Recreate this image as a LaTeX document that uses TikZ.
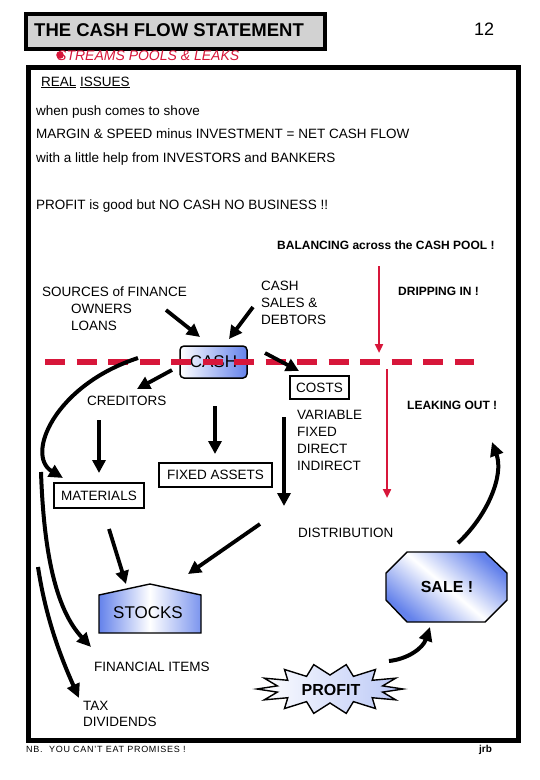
\documentclass[tikz,border=0pt]{standalone}
\usepackage{fontspec}
\setmainfont{Liberation Sans}
\usetikzlibrary{arrows.meta}
\definecolor{crim}{RGB}{215,22,58}
\definecolor{blueS}{RGB}{100,130,235}
\definecolor{marble}{RGB}{210,210,210}
\tikzset{
  lbl/.style={anchor=base west, inner sep=0, font=\fontsize{13.5}{16}\selectfont},
  blbl/.style={anchor=base west, inner sep=0, font=\bfseries\fontsize{12}{14}\selectfont},
  boxnode/.style={draw, line width=1.6pt, inner sep=0, font=\fontsize{13.5}{16}\selectfont},
  bigarrow/.style={line width=3.8pt, -{Triangle[length=13pt,width=13pt]}},
  curvearrow/.style={line width=4pt, -{Triangle[length=14pt,width=13pt]}},
  redarrow/.style={crim, line width=2.4pt, -{Triangle[length=9pt,width=8pt]}},
}
\begin{document}
\begin{tikzpicture}[x=1pt,y=-1pt]
\useasboundingbox (0,0) rectangle (540,780);
% title
\node[draw, line width=3.5pt, fill=marble, minimum width=299pt, minimum height=35pt, inner sep=0, anchor=north west] (titlebox) at (24,12) {};
\node[anchor=base west, inner sep=0, font=\bfseries\fontsize{18.5}{20}\selectfont] (title) at (34,36) {THE CASH FLOW STATEMENT};
\node[anchor=base west, inner sep=0, font=\fontsize{18}{20}\selectfont] (pagenum) at (474,35) {12};
\fill[crim] (60,55) circle (3.8pt);
\node[anchor=base west, inner sep=0, text=crim, font=\itshape\fontsize{14}{16}\selectfont] (streams) at (57,60) {STREAMS POOLS \& LEAKS};
% frame
\node[draw, line width=5pt, minimum width=490pt, minimum height=673pt, inner sep=0, anchor=north west] (frame) at (26,65) {};
% top text
\node[lbl] (real) at (41,86) {\underline{REAL} \underline{ISSUES}};
\node[lbl] (push) at (36,115) {when push comes to shove};
\node[lbl] (margin) at (36,138) {MARGIN \& SPEED minus INVESTMENT = NET CASH FLOW};
\node[lbl] (help) at (36,162) {with a little help from INVESTORS and BANKERS};
\node[lbl] (profitgood) at (36,209) {PROFIT is good but NO CASH NO BUSINESS !!};
\node[blbl] (balancing) at (277,249) {BALANCING across the CASH POOL !};
\node[blbl] (dripping) at (398,295) {DRIPPING IN !};
\node[blbl] (leaking) at (407,409) {LEAKING OUT !};
% sources
\node[lbl] (sources) at (42,296) {SOURCES of FINANCE};
\node[lbl] (owners) at (71,313) {OWNERS};
\node[lbl] (loans) at (71,330) {LOANS};
\node[lbl] (cashsales1) at (261,290) {CASH};
\node[lbl] (cashsales2) at (261,307) {SALES \&};
\node[lbl] (cashsales3) at (261,324) {DEBTORS};
% cash box
\node[draw, line width=1.5pt, rounded corners=4pt, left color=white, right color=blueS, minimum width=67pt, minimum height=32pt, inner sep=0, font=\fontsize{17}{18}\selectfont] (cash) at (213.5,362) {CASH};
% dashed line
\coordinate (dashL) at (45,362);
\coordinate (dashR) at (474,362);
\draw[crim, line width=5.5pt, dash pattern=on 20pt off 11.5pt] (dashL) -- (dashR);
% costs
\node[boxnode, minimum width=59pt, minimum height=23pt] (costs) at (319.5,387.5) {COSTS};
\node[lbl] (creditors) at (87,405) {CREDITORS};
\node[lbl] (variable) at (297,419) {VARIABLE};
\node[lbl] (fixed) at (297,436) {FIXED};
\node[lbl] (direct) at (297,453) {DIRECT};
\node[lbl] (indirect) at (297,470) {INDIRECT};
\node[boxnode, minimum width=113pt, minimum height=24pt] (fixedassets) at (215.5,475) {FIXED ASSETS};
\node[boxnode, minimum width=90pt, minimum height=25pt] (materials) at (99,495.5) {MATERIALS};
\node[lbl] (distribution) at (298,537) {DISTRIBUTION};
% stocks
\shade[left color=blueS, right color=blueS!85, middle color=white, draw, line width=1.4pt]
  (99,595) -- (150,584) -- (201,595) -- (201,633) -- (99,633) -- cycle;
\node[inner sep=0, font=\fontsize{17}{18}\selectfont] (stocks) at (148,613) {STOCKS};
% sale
\shade[top color=blueS, bottom color=blueS, middle color=white, shading angle=-40, draw, line width=1.4pt]
  (407,552) -- (485,552) -- (507,573) -- (507,600) -- (485,622) -- (407,622) -- (386,600) -- (386,573) -- cycle;
\node[inner sep=0, font=\bfseries\fontsize{16}{18}\selectfont] (sale) at (447,587) {SALE !};
% profit
\shade[left color=white, right color=blueS!45, draw, line width=1.4pt]
  (403,689) \foreach \i in {1,...,27}{ -- ({330+ifthenelse(isodd(\i),54,73)*cos(\i*360/28)},{689+ifthenelse(isodd(\i),14,25)*sin(\i*360/28)}) } -- cycle;
\node[inner sep=0, font=\bfseries\fontsize{16}{18}\selectfont] (profit) at (331,690) {PROFIT};
\node[lbl] (financial) at (94,671) {FINANCIAL ITEMS};
\node[lbl] (tax) at (83,710) {TAX};
\node[lbl] (dividends) at (83,726) {DIVIDENDS};
\node[anchor=base west, inner sep=0, font=\addfontfeature{LetterSpace=8}\fontsize{9}{10}\selectfont] (nb) at (26,752) {NB.\ \ YOU CAN'T EAT PROMISES !};
\node[anchor=base west, inner sep=0, font=\bfseries\fontsize{10}{10}\selectfont] (jrb) at (479,752) {jrb};
% arrow coordinates
\coordinate (a1s) at (166,310); \coordinate (a1e) at (200,337);
\coordinate (a2s) at (253,307); \coordinate (a2e) at (229,339);
\coordinate (a3s) at (265,353); \coordinate (a3e) at (299,371);
\coordinate (a4s) at (172,370); \coordinate (a4e) at (137,389);
\coordinate (a5s) at (99,420); \coordinate (a5e) at (99,473);
\coordinate (a6s) at (215,406); \coordinate (a6e) at (215,454);
\coordinate (a7s) at (284,417); \coordinate (a7e) at (284,506);
\coordinate (a8s) at (260,524); \coordinate (a8e) at (188,574);
\coordinate (a9s) at (109,529); \coordinate (a9e) at (126,584);
\coordinate (rd1s) at (379,266); \coordinate (rd1e) at (379,353);
\coordinate (rd2s) at (387,369); \coordinate (rd2e) at (387,498);
\coordinate (c1s) at (138,358); \coordinate (c1e) at (63,478);
\coordinate (c2s) at (41,472); \coordinate (c2e) at (91,647);
\coordinate (c3s) at (38,567); \coordinate (c3e) at (79,698);
\coordinate (c4s) at (458,543); \coordinate (c4e) at (492,442);
\coordinate (c5s) at (389,661); \coordinate (c5e) at (430,627);
% arrows
\draw[bigarrow] (a1s) -- (a1e);
\draw[bigarrow] (a2s) -- (a2e);
\draw[bigarrow] (a3s) -- (a3e);
\draw[bigarrow] (a4s) -- (a4e);
\draw[bigarrow] (a5s) -- (a5e);
\draw[bigarrow] (a6s) -- (a6e);
\draw[bigarrow] (a7s) -- (a7e);
\draw[bigarrow] (a8s) -- (a8e);
\draw[bigarrow] (a9s) -- (a9e);
\draw[redarrow] (rd1s) -- (rd1e);
\draw[redarrow] (rd2s) -- (rd2e);
\draw[curvearrow] (c1s) .. controls (55,385) and (25,455) .. (c1e);
\draw[curvearrow] (c2s) .. controls (44,560) and (58,612) .. (c2e);
\draw[curvearrow] (c3s) .. controls (46,620) and (62,660) .. (c3e);
\draw[curvearrow] (c4s) .. controls (488,515) and (504,475) .. (c4e);
\draw[curvearrow] (c5s) .. controls (408,659) and (423,648) .. (c5e);
\end{tikzpicture}
\end{document}
